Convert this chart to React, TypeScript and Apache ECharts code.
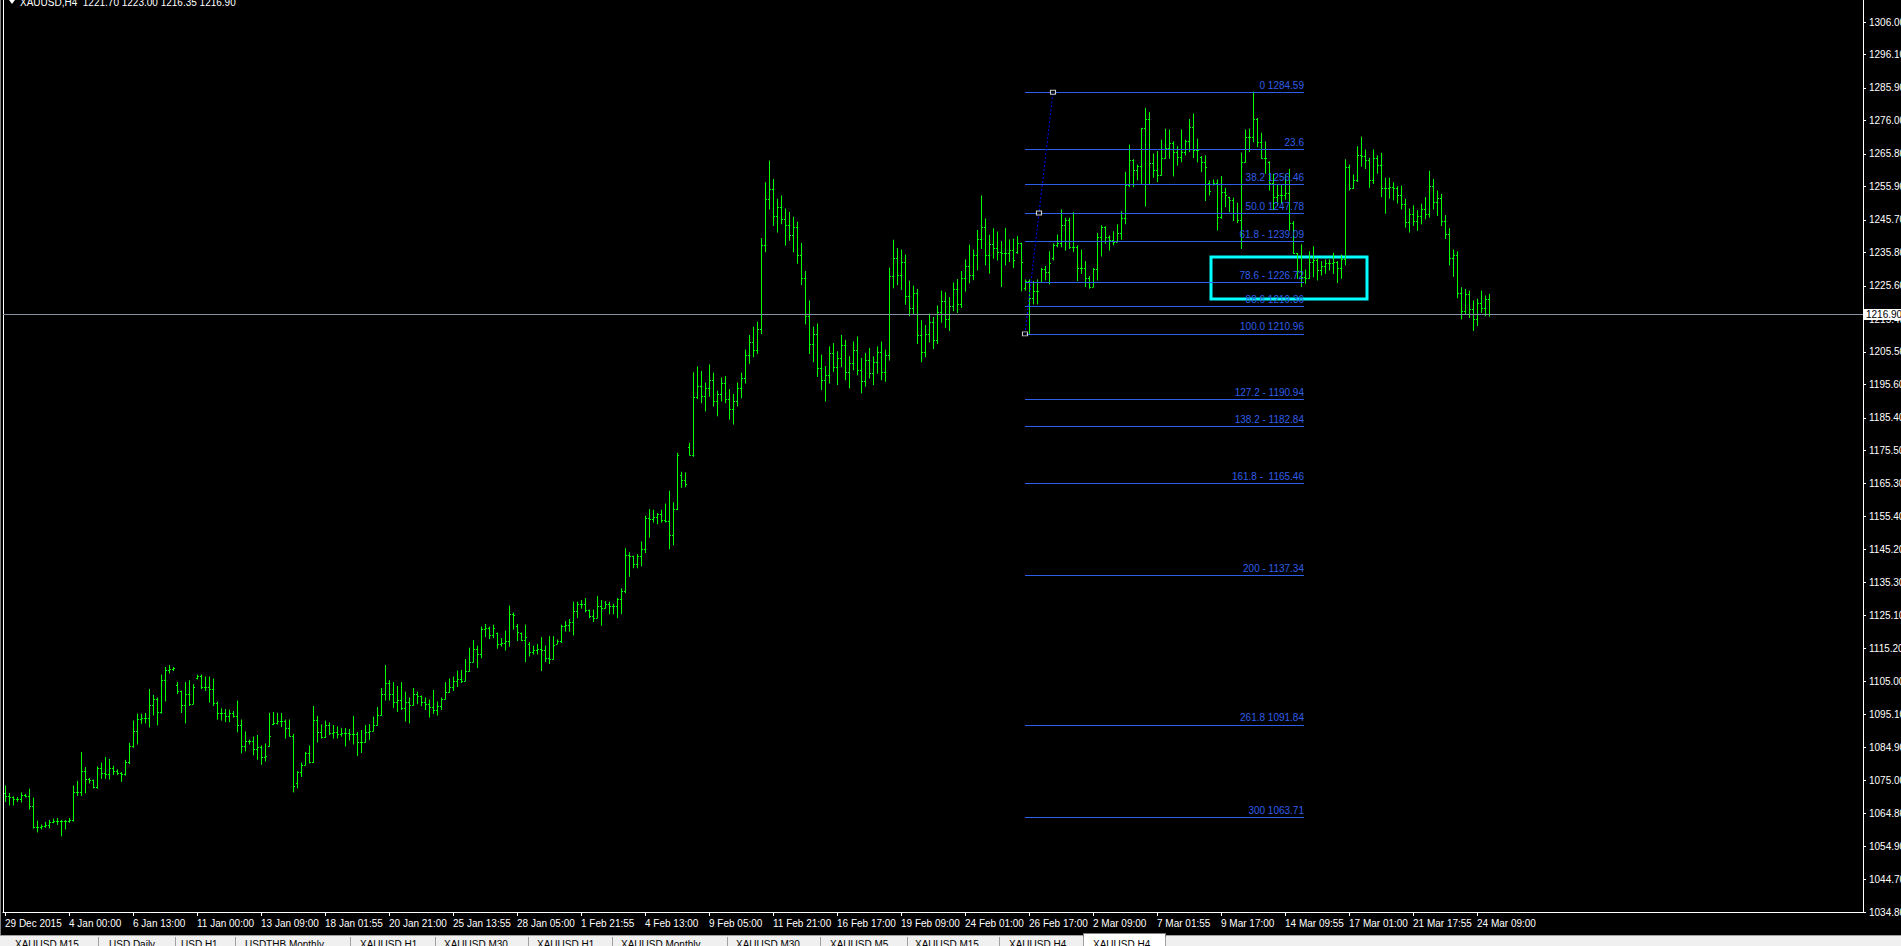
import React, { useEffect, useRef } from 'react';
import * as echarts from 'echarts';

type Bar = [number, number, number, number]; // open, high, low, close

// 29 Dec 2015 .. ~13 Jan
const ohlcDecJan: Bar[] = [
  [1071.0, 1073.2, 1068.5, 1070.0], [1070.0, 1070.9, 1067.4, 1069.9], [1069.9, 1069.9, 1067.4, 1069.1], [1069.1, 1069.7, 1068.5, 1069.1],
  [1069.1, 1071.1, 1068.3, 1070.6], [1070.6, 1070.6, 1069.9, 1070.1], [1070.1, 1072.2, 1066.2, 1067.1], [1067.1, 1069.5, 1060.4, 1060.7],
  [1060.7, 1062.5, 1059.2, 1060.6], [1060.6, 1061.3, 1060.1, 1060.9], [1060.9, 1062.1, 1060.6, 1061.3], [1061.3, 1062.7, 1060.4, 1062.1],
  [1062.1, 1063.1, 1062.0, 1062.4], [1062.4, 1063.3, 1061.5, 1062.4], [1062.4, 1062.7, 1058.0, 1062.4], [1062.4, 1062.7, 1060.1, 1062.4],
  [1062.4, 1063.3, 1062.1, 1062.9], [1062.9, 1073.2, 1062.5, 1071.4], [1071.4, 1074.6, 1070.3, 1071.4], [1071.4, 1083.4, 1070.3, 1077.8],
  [1077.8, 1078.8, 1071.1, 1075.3], [1075.3, 1075.5, 1074.1, 1074.9], [1074.9, 1075.0, 1072.6, 1072.9], [1072.9, 1079.0, 1072.5, 1078.8],
  [1078.8, 1080.2, 1075.5, 1077.3], [1077.3, 1081.9, 1075.5, 1076.9], [1076.9, 1081.3, 1075.3, 1078.8], [1078.8, 1079.2, 1076.7, 1077.9],
  [1077.9, 1078.1, 1076.7, 1077.3], [1077.3, 1077.3, 1074.6, 1076.7], [1076.7, 1081.0, 1076.5, 1080.4], [1080.4, 1086.2, 1080.0, 1085.4],
  [1085.4, 1093.0, 1085.0, 1090.1], [1090.1, 1095.1, 1086.0, 1093.6], [1093.6, 1095.1, 1092.3, 1093.9], [1093.9, 1095.3, 1092.4, 1093.9],
  [1093.9, 1102.6, 1091.2, 1097.9], [1097.9, 1100.8, 1094.8, 1099.8], [1099.8, 1100.0, 1091.8, 1095.6], [1095.6, 1107.0, 1095.4, 1105.6],
  [1105.6, 1109.3, 1099.1, 1108.4], [1108.4, 1109.9, 1107.6, 1108.7], [1108.7, 1109.3, 1108.4, 1109.0], [1104.0, 1104.7, 1101.4, 1102.1],
  [1102.1, 1102.1, 1095.6, 1097.9], [1097.9, 1104.7, 1092.4, 1101.2], [1101.2, 1105.3, 1097.7, 1098.3], [1098.3, 1104.1, 1098.3, 1103.5],
  [1106.0, 1107.0, 1105.8, 1106.6], [1106.6, 1107.0, 1102.9, 1103.5], [1103.5, 1106.4, 1102.3, 1103.3], [1103.3, 1106.4, 1098.8, 1102.9],
  [1102.9, 1105.8, 1097.7, 1098.6], [1098.6, 1098.8, 1093.6, 1095.3], [1095.3, 1096.7, 1093.3, 1095.3], [1095.3, 1096.5, 1092.8, 1094.4],
  [1094.4, 1096.3, 1092.8, 1095.3], [1095.3, 1095.9, 1094.2, 1094.4], [1094.4, 1099.1, 1089.7, 1091.8], [1091.8, 1093.3, 1083.3, 1085.4],
  [1085.4, 1089.7, 1083.9, 1086.9], [1086.9, 1087.2, 1086.0, 1086.9], [1086.9, 1088.1, 1082.7, 1084.6], [1084.6, 1088.6, 1081.3, 1085.1],
  [1085.1, 1085.4, 1079.8, 1081.9], [1081.9, 1086.0, 1080.8, 1082.3], [1085.5, 1095.3, 1085.4, 1088.4], [1092.0, 1095.6, 1091.9, 1092.4],
  [1092.4, 1095.3, 1092.1, 1093.0], [1093.0, 1095.3, 1091.3, 1093.0], [1093.0, 1093.3, 1087.8, 1090.9], [1090.9, 1093.3, 1088.4, 1088.4],
  [1088.4, 1088.9, 1071.4, 1073.2], [1074.0, 1077.6, 1072.6, 1077.5],
];

// ~14 Jan .. 9 Feb
const ohlcJanFeb: Bar[] = [
  [1077.5, 1080.2, 1076.1, 1079.6], [1079.6, 1083.4, 1079.6, 1083.1], [1083.1, 1085.4, 1080.2, 1080.4], [1080.4, 1097.4, 1080.4, 1093.3],
  [1093.3, 1094.4, 1086.6, 1089.5], [1089.5, 1091.8, 1087.8, 1088.0], [1088.0, 1093.0, 1088.0, 1091.8], [1091.8, 1092.4, 1088.9, 1089.3],
  [1089.3, 1091.6, 1087.8, 1089.5], [1089.5, 1091.2, 1087.8, 1088.9], [1088.9, 1090.7, 1088.4, 1089.2], [1089.2, 1090.7, 1085.4, 1089.2],
  [1089.2, 1090.4, 1087.2, 1088.9], [1088.9, 1094.4, 1086.0, 1088.9], [1088.9, 1089.5, 1082.5, 1086.6], [1086.6, 1090.1, 1083.4, 1086.6],
  [1086.6, 1091.6, 1086.6, 1089.7], [1089.7, 1091.9, 1087.4, 1090.1], [1090.1, 1094.2, 1090.1, 1091.8], [1091.8, 1097.1, 1091.8, 1094.8],
  [1094.8, 1102.9, 1094.8, 1101.2], [1101.2, 1109.9, 1099.4, 1104.7], [1104.7, 1105.3, 1099.4, 1101.2], [1101.2, 1104.7, 1097.1, 1098.8],
  [1098.8, 1103.5, 1095.9, 1099.4], [1099.4, 1104.7, 1096.5, 1097.1], [1097.1, 1101.8, 1093.0, 1098.8], [1098.8, 1100.0, 1092.4, 1097.9],
  [1097.9, 1102.9, 1097.9, 1101.2], [1101.2, 1101.8, 1098.3, 1100.6], [1100.6, 1100.6, 1097.7, 1098.8], [1098.8, 1100.0, 1096.5, 1098.3],
  [1098.3, 1099.4, 1094.2, 1097.4], [1097.4, 1102.3, 1095.3, 1096.5], [1096.5, 1098.8, 1094.8, 1097.7], [1097.7, 1100.0, 1096.5, 1099.7],
  [1099.7, 1104.7, 1099.7, 1101.8], [1101.8, 1105.8, 1101.8, 1103.5], [1103.5, 1106.4, 1102.3, 1105.3], [1105.3, 1108.2, 1103.5, 1105.8],
  [1105.8, 1108.4, 1104.7, 1105.3], [1105.3, 1111.7, 1105.3, 1108.2], [1108.2, 1115.2, 1108.2, 1111.1], [1111.1, 1117.5, 1111.1, 1114.9],
  [1114.9, 1115.8, 1109.3, 1113.4], [1113.4, 1121.6, 1112.3, 1121.0], [1121.0, 1122.4, 1118.7, 1121.2], [1121.2, 1121.6, 1118.1, 1119.2],
  [1119.2, 1122.2, 1118.4, 1121.2], [1119.8, 1119.8, 1115.2, 1116.6], [1116.6, 1118.1, 1115.8, 1116.9], [1116.9, 1120.4, 1114.6, 1117.5],
  [1117.5, 1128.0, 1115.8, 1125.7], [1125.7, 1125.9, 1121.0, 1125.4], [1122.0, 1122.4, 1117.5, 1120.1], [1119.8, 1119.8, 1117.5, 1117.7],
  [1117.7, 1122.2, 1111.1, 1118.7], [1116.5, 1116.9, 1112.8, 1114.0], [1114.0, 1115.8, 1113.4, 1114.6], [1114.6, 1116.3, 1113.4, 1114.9],
  [1114.9, 1118.4, 1108.4, 1114.6], [1114.6, 1115.8, 1111.1, 1112.3], [1112.3, 1118.7, 1110.5, 1111.9], [1111.9, 1118.7, 1111.9, 1116.3],
  [1116.6, 1117.7, 1116.6, 1117.3], [1117.3, 1122.2, 1116.9, 1121.9], [1121.9, 1123.3, 1120.4, 1122.4], [1122.4, 1123.9, 1120.4, 1123.1],
  [1123.1, 1129.2, 1119.2, 1126.6], [1126.6, 1129.2, 1124.5, 1128.6], [1128.6, 1129.7, 1127.4, 1128.6], [1128.6, 1130.3, 1126.3, 1126.8],
  [1126.8, 1126.8, 1124.5, 1125.1], [1125.1, 1126.8, 1123.3, 1124.5], [1124.5, 1130.9, 1124.5, 1128.0], [1128.0, 1129.7, 1122.2, 1127.4],
  [1127.4, 1129.4, 1127.4, 1128.6], [1128.6, 1129.2, 1125.7, 1128.0], [1128.0, 1128.6, 1125.7, 1128.0], [1128.0, 1130.3, 1124.5, 1130.1],
  [1130.1, 1133.3, 1125.7, 1132.7], [1132.7, 1145.5, 1132.1, 1143.7], [1143.7, 1144.3, 1137.1, 1143.2], [1143.2, 1143.2, 1139.7, 1140.8],
  [1140.8, 1143.7, 1139.7, 1143.2], [1143.2, 1147.6, 1140.3, 1145.5], [1145.5, 1155.4, 1144.3, 1154.8], [1154.8, 1157.4, 1149.0, 1154.6],
  [1154.6, 1157.2, 1153.6, 1155.1], [1155.1, 1156.2, 1153.1, 1156.0], [1156.0, 1157.2, 1153.6, 1154.2], [1154.2, 1159.1, 1153.6, 1153.9],
  [1153.9, 1163.0, 1145.5, 1149.6], [1149.6, 1159.5, 1146.7, 1157.5], [1157.5, 1174.6, 1157.4, 1174.1], [1168.0, 1168.8, 1164.2, 1166.5],
  [1166.5, 1168.6, 1164.4, 1165.3], [1176.5, 1177.6, 1174.1, 1174.1], [1174.1, 1199.1, 1173.7, 1191.6], [1191.6, 1200.9, 1191.2, 1195.0],
];

// ~9 Feb .. 25 Feb
const ohlcFeb: Bar[] = [
  [1195.0, 1199.5, 1190.0, 1192.0], [1192.0, 1196.0, 1187.5, 1194.5], [1194.5, 1201.5, 1192.0, 1197.0], [1197.0, 1199.0, 1189.0, 1190.5],
  [1190.5, 1193.5, 1186.0, 1192.5], [1192.5, 1197.5, 1190.5, 1196.0], [1196.0, 1198.0, 1190.0, 1191.0], [1191.0, 1194.0, 1185.0, 1188.0],
  [1188.0, 1192.5, 1183.5, 1190.5], [1190.5, 1196.0, 1189.0, 1194.5], [1194.5, 1199.0, 1191.5, 1197.5], [1197.5, 1206.0, 1196.0, 1204.5],
  [1204.5, 1210.5, 1202.0, 1208.5], [1208.5, 1213.0, 1204.0, 1206.0], [1206.0, 1214.5, 1205.0, 1212.5],
  [1212.5, 1240.0, 1211.0, 1238.0], [1238.0, 1257.0, 1236.0, 1252.0], [1252.0, 1263.6, 1249.0, 1255.0],
  [1255.0, 1258.0, 1244.0, 1247.0], [1247.0, 1252.0, 1242.0, 1249.5], [1249.5, 1253.0, 1244.5, 1246.0], [1246.0, 1249.0, 1238.0, 1244.0],
  [1244.0, 1248.0, 1239.5, 1241.0], [1241.0, 1246.5, 1236.0, 1243.5], [1243.5, 1245.0, 1232.5, 1235.0], [1235.0, 1238.5, 1226.0, 1228.0],
  [1228.0, 1230.0, 1214.0, 1216.5], [1216.5, 1221.0, 1205.0, 1208.0], [1208.0, 1213.0, 1202.5, 1211.0],
  [1211.0, 1214.0, 1198.0, 1200.5], [1200.5, 1204.5, 1194.0, 1197.0], [1197.0, 1201.0, 1190.5, 1198.5], [1198.5, 1207.0, 1196.0, 1205.0],
  [1205.0, 1208.0, 1199.5, 1201.0], [1201.0, 1205.5, 1195.5, 1203.5], [1203.5, 1210.5, 1201.0, 1207.5], [1207.5, 1209.0, 1197.0, 1199.5],
  [1199.5, 1204.0, 1194.5, 1202.0], [1202.0, 1208.5, 1200.0, 1206.0], [1206.0, 1210.0, 1198.5, 1200.0], [1200.0, 1203.5, 1193.0, 1196.5],
  [1196.5, 1205.0, 1195.0, 1203.0], [1203.0, 1206.5, 1197.5, 1199.0], [1199.0, 1204.0, 1195.5, 1202.5], [1202.5, 1207.0, 1199.0, 1205.5],
  [1205.5, 1208.5, 1197.0, 1199.5], [1199.5, 1206.0, 1196.5, 1204.5],
  [1204.5, 1231.0, 1203.0, 1228.5], [1228.5, 1239.5, 1225.0, 1234.0],
  [1234.0, 1237.0, 1226.0, 1229.0], [1229.0, 1236.5, 1224.5, 1233.0], [1233.0, 1235.0, 1220.0, 1222.5], [1222.5, 1227.0, 1216.5, 1219.0],
  [1219.0, 1225.5, 1217.0, 1223.5], [1223.5, 1224.5, 1208.0, 1210.5], [1210.5, 1215.0, 1202.5, 1205.5], [1205.5, 1213.5, 1204.0, 1211.0],
  [1211.0, 1217.0, 1208.5, 1214.5], [1214.5, 1216.0, 1206.5, 1209.0], [1209.0, 1219.5, 1208.0, 1217.5], [1217.5, 1224.0, 1214.5, 1221.0],
  [1221.0, 1223.5, 1213.0, 1215.5], [1215.5, 1222.0, 1212.0, 1219.5], [1219.5, 1226.5, 1218.0, 1224.5], [1224.5, 1227.5, 1217.5, 1220.0],
  [1220.0, 1230.0, 1219.0, 1228.0], [1228.0, 1233.5, 1224.0, 1231.5], [1231.5, 1238.0, 1226.5, 1229.0], [1229.0, 1236.5, 1227.5, 1235.0],
  [1235.0, 1242.5, 1230.5, 1240.0], [1240.0, 1253.0, 1237.0, 1243.5],
  [1243.5, 1246.0, 1232.0, 1235.0], [1235.0, 1241.0, 1229.5, 1238.5], [1238.5, 1243.0, 1234.0, 1237.0], [1237.0, 1242.0, 1233.5, 1236.0],
];

// ~25 Feb .. 18 Mar
const ohlcFebMar: Bar[] = [
  [1236.0, 1239.1, 1225.4, 1235.7], [1235.7, 1243.1, 1232.0, 1235.7], [1235.7, 1239.6, 1233.0, 1236.5], [1236.5, 1239.8, 1231.2, 1233.5],
  [1236.0, 1240.6, 1235.5, 1238.6], [1238.6, 1238.6, 1224.1, 1233.0], [1225.0, 1227.4, 1224.3, 1227.1], [1227.1, 1227.4, 1210.96, 1221.8],
  [1221.8, 1226.9, 1220.1, 1224.1], [1224.1, 1227.4, 1220.1, 1224.1], [1226.9, 1230.9, 1226.9, 1230.7], [1230.7, 1231.5, 1227.4, 1229.9],
  [1229.9, 1236.0, 1226.2, 1232.5], [1234.0, 1238.4, 1233.5, 1237.9], [1237.9, 1241.1, 1237.5, 1238.6], [1238.6, 1248.7, 1237.5, 1244.2],
  [1244.2, 1246.2, 1236.5, 1245.7], [1245.7, 1246.2, 1237.0, 1237.5], [1237.5, 1247.9, 1236.0, 1237.5], [1237.5, 1237.8, 1227.2, 1230.9],
  [1230.9, 1236.5, 1229.4, 1230.9], [1230.9, 1233.0, 1225.4, 1227.9], [1227.9, 1228.4, 1224.9, 1225.4], [1225.4, 1230.9, 1225.4, 1230.7],
  [1230.7, 1241.6, 1227.4, 1240.6], [1240.6, 1243.9, 1234.7, 1243.6], [1243.6, 1243.6, 1238.6, 1240.6], [1240.6, 1240.8, 1236.5, 1239.6],
  [1239.6, 1242.1, 1238.1, 1239.1], [1239.1, 1244.2, 1239.1, 1241.6], [1241.6, 1248.2, 1239.8, 1246.2], [1246.2, 1260.2, 1244.5, 1256.3],
  [1256.3, 1268.5, 1255.8, 1264.0], [1264.0, 1264.0, 1255.8, 1260.9], [1260.9, 1262.4, 1257.9, 1262.1], [1262.1, 1273.6, 1256.8, 1273.6],
  [1273.6, 1279.7, 1249.9, 1276.3], [1276.3, 1278.4, 1256.8, 1262.9], [1262.9, 1265.8, 1258.7, 1260.9], [1260.9, 1266.5, 1257.4, 1259.4],
  [1259.4, 1270.0, 1259.4, 1264.5], [1264.5, 1273.3, 1264.5, 1267.5], [1267.5, 1273.1, 1264.5, 1269.0], [1269.0, 1269.5, 1259.1, 1266.5],
  [1266.5, 1268.0, 1262.4, 1265.0], [1265.0, 1273.1, 1263.4, 1266.5], [1266.5, 1270.0, 1265.5, 1269.7], [1269.7, 1276.3, 1266.5, 1274.1],
  [1274.1, 1278.0, 1264.7, 1267.0], [1267.0, 1270.3, 1263.4, 1267.0], [1265.0, 1265.0, 1260.4, 1263.4], [1263.4, 1265.2, 1251.6, 1261.7],
  [1257.0, 1257.6, 1253.3, 1254.6], [1256.5, 1257.9, 1256.3, 1256.8], [1256.8, 1257.9, 1242.6, 1246.7], [1246.7, 1258.9, 1246.2, 1254.3],
  [1254.3, 1255.3, 1249.7, 1253.3], [1252.6, 1252.6, 1248.2, 1251.8], [1251.8, 1252.3, 1245.5, 1247.7], [1247.7, 1250.8, 1244.9, 1245.7],
  [1245.7, 1266.0, 1237.0, 1263.4], [1263.4, 1273.1, 1263.4, 1271.1], [1271.1, 1273.3, 1266.5, 1271.1], [1271.1, 1284.59, 1269.5, 1276.3],
  [1276.3, 1276.6, 1268.0, 1269.5], [1269.5, 1272.1, 1264.5, 1264.5], [1264.5, 1269.5, 1259.9, 1264.5], [1263.4, 1263.4, 1254.8, 1256.8],
  [1256.8, 1259.6, 1248.9, 1252.8], [1252.8, 1256.5, 1250.2, 1253.3], [1253.3, 1256.3, 1250.8, 1253.3], [1253.3, 1259.4, 1252.0, 1253.8],
  [1253.8, 1261.1, 1242.6, 1244.7], [1244.7, 1245.2, 1235.5, 1235.5], [1235.5, 1235.5, 1227.9, 1230.0], [1230.0, 1238.1, 1225.4, 1228.4],
  [1228.4, 1230.4, 1226.4, 1227.9], [1227.9, 1236.0, 1227.9, 1233.0], [1233.0, 1237.5, 1228.4, 1233.5], [1233.5, 1234.0, 1227.4, 1230.4],
  [1230.4, 1233.0, 1228.9, 1231.5], [1231.5, 1233.5, 1229.4, 1232.5], [1232.5, 1233.5, 1230.4, 1232.7], [1232.7, 1235.5, 1229.4, 1233.0],
  [1233.0, 1233.0, 1226.6, 1230.9], [1230.9, 1235.0, 1227.9, 1233.7], [1233.7, 1264.0, 1232.0, 1261.9], [1261.9, 1262.4, 1254.8, 1255.3],
  [1255.3, 1259.4, 1255.3, 1257.9], [1257.9, 1268.0, 1257.4, 1265.5], [1265.5, 1270.9, 1262.1, 1265.2], [1265.2, 1267.0, 1261.4, 1264.0],
  [1264.0, 1264.5, 1255.6, 1257.9], [1257.9, 1267.0, 1256.8, 1264.5], [1264.5, 1265.2, 1259.9, 1262.4], [1262.4, 1266.0, 1252.8, 1255.3],
  [1255.3, 1258.4, 1247.7, 1255.3], [1255.3, 1258.4, 1252.3, 1255.8], [1255.8, 1257.0, 1251.8, 1255.3], [1255.3, 1255.8, 1250.8, 1253.3],
];

// ~18 Mar .. 24 Mar
const ohlcMar: Bar[] = [
  [1253.3, 1256.0, 1249.0, 1250.5], [1250.5, 1252.0, 1243.5, 1245.0], [1245.0, 1249.0, 1242.0, 1247.5], [1247.5, 1250.0, 1244.0, 1245.5],
  [1245.5, 1248.5, 1242.5, 1247.0], [1247.0, 1250.5, 1244.5, 1249.0], [1249.0, 1252.5, 1246.0, 1247.5], [1247.5, 1260.5, 1246.5, 1256.0],
  [1256.0, 1258.0, 1249.0, 1251.0], [1251.0, 1254.5, 1247.0, 1252.5], [1252.5, 1253.5, 1244.0, 1245.5], [1245.5, 1247.0, 1240.0, 1241.5],
  [1241.5, 1243.0, 1232.0, 1234.0], [1234.0, 1236.5, 1228.5, 1235.0], [1235.0, 1236.0, 1222.0, 1223.5], [1223.5, 1225.0, 1215.5, 1218.0],
  [1218.0, 1224.5, 1217.0, 1223.0], [1223.0, 1224.0, 1216.0, 1218.5], [1218.5, 1221.0, 1212.0, 1215.5], [1215.5, 1221.5, 1213.5, 1220.5],
  [1220.5, 1224.0, 1217.5, 1219.0], [1219.0, 1222.5, 1216.5, 1221.7], [1221.70, 1223.00, 1216.35, 1216.90],
];

const xTickLabels = [
  '29 Dec 2015', '4 Jan 00:00', '6 Jan 13:00', '11 Jan 00:00', '13 Jan 09:00', '18 Jan 01:55', '20 Jan 21:00', '25 Jan 13:55',
  '28 Jan 05:00', '1 Feb 21:55', '4 Feb 13:00', '9 Feb 05:00', '11 Feb 21:00', '16 Feb 17:00', '19 Feb 09:00', '24 Feb 01:00',
  '26 Feb 17:00', '2 Mar 09:00', '7 Mar 01:55', '9 Mar 17:00', '14 Mar 09:55', '17 Mar 01:00', '21 Mar 17:55', '24 Mar 09:00',
];
const barsPerTimeLabel = 16;

const yTickLabels = [
  '1306.00', '1296.10', '1285.90', '1276.00', '1265.80', '1255.90', '1245.70', '1235.80', '1225.60', '1215.40',
  '1205.50', '1195.60', '1185.40', '1175.50', '1165.30', '1155.40', '1145.20', '1135.30', '1125.10', '1115.20',
  '1105.00', '1095.10', '1084.90', '1075.00', '1064.80', '1054.90', '1044.70', '1034.80',
];

const fibLevels = [1284.59, 1267.21, 1256.46, 1247.78, 1239.09, 1226.72, 1219.36, 1210.96, 1190.94, 1182.84, 1165.46, 1137.34, 1091.84, 1063.71];
const fibLabels = [
  '0 1284.59', '23.6', '38.2 1256.46', '50.0 1247.78', '61.8 - 1239.09', '78.6 - 1226.72', '88.6 1219.36', '100.0 1210.96',
  '127.2 - 1190.94', '138.2 - 1182.84', '161.8 -  1165.46', '200 - 1137.34', '261.8 1091.84', '300 1063.71',
];
// fibonacci anchor points (bar index, price)
const fibAnchors: [number, number][] = [[255, 1210.96], [258.5, 1247.78], [262, 1284.59]];
const fibLineEnd = 324.75;
// highlighted zone (bar index, price)
const zoneBox: [[number, number], [number, number]] = [[301.5, 1234.4], [340.5, 1221.6]];
const lastPrice = 1216.9;
const titleText = 'XAUUSD,H4  1221.70 1223.00 1216.35 1216.90';

const tabNames = [
  'XAUUSD,M15', 'USD,Daily', 'USD,H1', 'USDTHB,Monthly', 'XAUUSD,H1', 'XAUUSD,M30', 'XAUUSD,H1', 'XAUUSD,Monthly',
  'XAUUSD,M30', 'XAUUSD,M5', 'XAUUSD,M15', 'XAUUSD,H4', 'XAUUSD,H4',
];

const FONT = '"Liberation Sans", Arial, sans-serif';
const BAR_COLOR = '#00ff00';
const FIB_COLOR = '#2f5ee8';

export default function App() {
  const ref = useRef<HTMLDivElement>(null);

  useEffect(() => {
    document.body.style.margin = '0';
    document.body.style.background = '#000';
    const chart = echarts.init(ref.current!, undefined, { renderer: 'svg' });

    const bars: Bar[] = [...ohlcDecJan, ...ohlcJanFeb, ...ohlcFeb, ...ohlcFebMar, ...ohlcMar];
    const barData = bars.map((b, i) => [i, b[0], b[1], b[2], b[3]]);
    const xTickVals = xTickLabels.map((_, k) => k * barsPerTimeLabel);
    const yTickVals = yTickLabels.map(Number);

    const tabSep = [98, 175, 235, 350, 435, 528, 612, 727, 820, 907, 999, 1083, 1165];
    const tabTextX = [15, 109, 181, 245, 360, 444, 537, 621, 736, 830, 915, 1009, 1093];

    const graphics: any[] = [
      { type: 'line', silent: true, shape: { x1: 0.5, y1: 0, x2: 0.5, y2: 935 }, style: { stroke: '#808080', lineWidth: 1 } },
      { type: 'line', silent: true, shape: { x1: 3.5, y1: 0, x2: 3.5, y2: 912 }, style: { stroke: '#ffffff', lineWidth: 1 } },
      { type: 'polygon', silent: true, shape: { points: [[9, 0], [15, 0], [12, 4]] }, style: { fill: '#ffffff' } },
      { type: 'text', silent: true, x: 20, y: 7, style: { text: titleText, fill: '#ffffff', font: `10px ${FONT}`, verticalAlign: 'bottom' } },
      { type: 'rect', silent: true, shape: { x: 0, y: 935, width: 1901, height: 11 }, style: { fill: '#f0f0f0' } },
      { type: 'line', silent: true, shape: { x1: 0, y1: 935.5, x2: 1901, y2: 935.5 }, style: { stroke: '#a0a0a0', lineWidth: 1 } },
      { type: 'rect', silent: true, shape: { x: 1083.5, y: 933.5, width: 82, height: 14 }, style: { fill: '#ffffff', stroke: '#808080', lineWidth: 1 } },
    ];
    tabSep.forEach((x) => {
      graphics.push({ type: 'line', silent: true, shape: { x1: x + 0.5, y1: 937, x2: x + 0.5, y2: 946 }, style: { stroke: '#a0a0a0', lineWidth: 1 } });
    });
    tabNames.forEach((name, k) => {
      graphics.push({ type: 'text', silent: true, x: tabTextX[k], y: 939, style: { text: name, fill: '#000000', font: `10px ${FONT}`, verticalAlign: 'top' } });
    });

    const option: any = {
      animation: false,
      backgroundColor: '#000000',
      grid: { left: 3, right: 38, top: 0, bottom: 34, show: false, containLabel: false, outerBoundsMode: 'none' },
      xAxis: {
        type: 'value',
        min: -0.5,
        max: 464.5,
        axisLine: { show: true, onZero: false, lineStyle: { color: '#ffffff', width: 1 } },
        axisTick: { show: true, customValues: xTickVals, length: 4, lineStyle: { color: '#ffffff' } },
        axisLabel: {
          show: true,
          customValues: xTickVals,
          formatter: (v: number) => xTickLabels[Math.round(v / barsPerTimeLabel)] ?? '',
          color: '#ffffff',
          fontSize: 10,
          fontFamily: FONT,
          align: 'left',
          margin: 6,
        },
        splitLine: { show: false },
      },
      yAxis: {
        type: 'value',
        position: 'right',
        min: 1034.8,
        max: 1312.705,
        axisLine: { show: true, onZero: false, lineStyle: { color: '#ffffff', width: 1 } },
        axisTick: { show: true, customValues: yTickVals, length: 3, lineStyle: { color: '#ffffff' } },
        axisLabel: {
          show: true,
          customValues: yTickVals,
          formatter: (v: number) => v.toFixed(2),
          color: '#ffffff',
          fontSize: 10,
          fontFamily: FONT,
          margin: 6,
          align: 'left',
        },
        splitLine: { show: false },
      },
      series: [
        {
          type: 'custom',
          name: 'XAUUSD',
          data: barData,
          encode: { x: 0, y: [1, 2, 3, 4] },
          clip: true,
          z: 2,
          renderItem: (_params: any, api: any) => {
            const i = api.value(0);
            const o = api.coord([i, api.value(1)]);
            const h = api.coord([i, api.value(2)]);
            const l = api.coord([i, api.value(3)]);
            const c = api.coord([i, api.value(4)]);
            const x = Math.round(o[0]) + 0.5;
            const st = { stroke: BAR_COLOR, lineWidth: 1 };
            return {
              type: 'group',
              children: [
                { type: 'line', shape: { x1: x, y1: h[1] - 0.5, x2: x, y2: l[1] + 0.5 }, style: st },
                { type: 'line', shape: { x1: x - 1.5, y1: Math.round(o[1]) + 0.5, x2: x, y2: Math.round(o[1]) + 0.5 }, style: st },
                { type: 'line', shape: { x1: x, y1: Math.round(c[1]) + 0.5, x2: x + 1.5, y2: Math.round(c[1]) + 0.5 }, style: st },
              ],
            };
          },
        },
        {
          type: 'scatter',
          name: 'fibo',
          z: 5,
          data: fibAnchors,
          symbol: 'rect',
          symbolSize: [5, 4],
          itemStyle: { color: '#000000', borderColor: '#ffffff', borderWidth: 1 },
          markLine: {
            silent: true,
            symbol: ['none', 'none'],
            animation: false,
            data: [
              ...fibLevels.map((lv, k) => [
                {
                  name: fibLabels[k],
                  coord: [fibAnchors[0][0], lv],
                  lineStyle: { color: FIB_COLOR, width: 1, type: 'solid' },
                  label: {
                    show: true,
                    position: 'insideEndTop',
                    formatter: '{b}',
                    color: FIB_COLOR,
                    fontSize: 10,
                    fontFamily: FONT,
                    distance: [0, 2],
                  },
                },
                { coord: [fibLineEnd, lv] },
              ]),
              [
                { coord: fibAnchors[0], lineStyle: { color: '#0000ff', width: 1, type: [2, 2] }, label: { show: false } },
                { coord: fibAnchors[2] },
              ],
            ],
          },
          markArea: {
            silent: true,
            itemStyle: { color: 'rgba(0,0,0,0)', borderColor: '#00ffff', borderWidth: 3 },
            data: [[{ coord: zoneBox[0] }, { coord: zoneBox[1] }]],
          },
        },
        {
          type: 'line',
          name: 'bid',
          z: 4,
          data: [],
          markLine: {
            silent: true,
            symbol: ['none', 'none'],
            animation: false,
            data: [
              {
                yAxis: lastPrice,
                lineStyle: { color: '#8792a2', width: 1, type: 'solid' },
                label: {
                  show: true,
                  position: 'end',
                  formatter: lastPrice.toFixed(2),
                  color: '#000000',
                  backgroundColor: '#ffffff',
                  fontSize: 10,
                  fontFamily: FONT,
                  padding: [1, 3, 0, 2],
                  distance: 1,
                },
              },
            ],
          },
        },
      ],
      graphic: graphics,
    };

    chart.setOption(option);
    return () => chart.dispose();
  }, []);

  return <div ref={ref} style={{ width: 1901, height: 946 }} />;
}
